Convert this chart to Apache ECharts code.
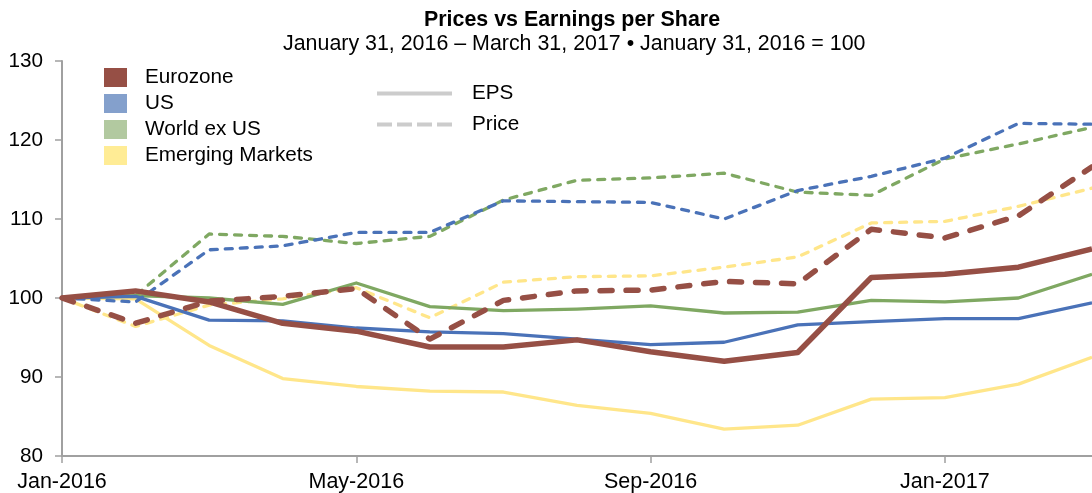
<!DOCTYPE html>
<html>
<head>
<meta charset="utf-8">
<script src="https://cdn.jsdelivr.net/npm/echarts@6/dist/echarts.min.js"></script>
<style>
html,body{margin:0;padding:0;background:#fff;}
#chart{width:1092px;height:493px;}
</style>
</head>
<body>
<div id="chart"></div>
<script>
var months = ['Jan-2016','Feb-2016','Mar-2016','Apr-2016','May-2016','Jun-2016','Jul-2016','Aug-2016','Sep-2016','Oct-2016','Nov-2016','Dec-2016','Jan-2017','Feb-2017','Mar-2017'];
var yTicks = [80, 90, 100, 110, 120, 130];

var eurozoneEPS   = [100, 100.9, 99.5, 96.8, 95.8, 93.8, 93.8, 94.7, 93.2, 92.0, 93.1, 102.6, 103.0, 103.9, 106.2];
var eurozonePrice = [100, 96.8, 99.6, 100.2, 101.2, 94.8, 99.7, 100.9, 101.0, 102.1, 101.8, 108.7, 107.6, 110.4, 116.6];
var usEPS         = [100, 100.2, 97.2, 97.1, 96.2, 95.7, 95.5, 94.8, 94.1, 94.4, 96.6, 97.0, 97.4, 97.4, 99.4];
var usPrice       = [100, 99.5, 106.1, 106.6, 108.3, 108.3, 112.3, 112.2, 112.1, 110.0, 113.6, 115.4, 117.7, 122.1, 122.0];
var worldEPS      = [100, 100.3, 100.0, 99.2, 101.9, 98.9, 98.4, 98.6, 99.0, 98.1, 98.2, 99.7, 99.5, 100.0, 103.0];
var worldPrice    = [100, 100.3, 108.1, 107.8, 106.9, 107.8, 112.4, 114.9, 115.2, 115.8, 113.4, 113.0, 117.6, 119.5, 121.6];
var emEPS         = [100, 99.9, 94.0, 89.8, 88.8, 88.2, 88.1, 86.4, 85.4, 83.4, 83.9, 87.2, 87.4, 89.1, 92.5];
var emPrice       = [100, 96.4, 99.1, 99.9, 101.3, 97.5, 102.0, 102.7, 102.8, 103.9, 105.2, 109.5, 109.7, 111.6, 113.9];

var regions = ['Eurozone', 'US', 'World ex US', 'Emerging Markets'];
var lineColors = {'Eurozone':'#964F45','US':'#4A72B8','World ex US':'#7FA862','Emerging Markets':'#FFE68A'};
var swatchColors = {'Eurozone':'#964F45','US':'#84A0CC','World ex US':'#B2C9A0','Emerging Markets':'#FFEC95'};

var FONT = '"Liberation Sans", Arial, sans-serif';

function lineSeries(name, data, width, dashed, dash) {
  return {
    name: name, type: 'line', data: data, symbol: 'none', animation: false,
    itemStyle: {color: lineColors[name]},
    lineStyle: {color: lineColors[name], width: width, type: dashed ? dash : 'solid', cap: dashed ? 'round' : 'butt', join: 'round'},
    z: 2
  };
}

var series = [
  lineSeries('Emerging Markets', emEPS, 3.3, false),
  lineSeries('Emerging Markets', emPrice, 3.3, true, [7, 8]),
  lineSeries('World ex US', worldEPS, 3.3, false),
  lineSeries('World ex US', worldPrice, 3.3, true, [7, 8]),
  lineSeries('US', usEPS, 3.3, false),
  lineSeries('US', usPrice, 3.3, true, [7, 8]),
  lineSeries('Eurozone', eurozoneEPS, 5.5, false),
  lineSeries('Eurozone', eurozonePrice, 5.5, true, [12, 14]),
  {name: 'EPS', type: 'line', data: [], symbol: 'none', itemStyle: {color: '#CCCCCC'}, lineStyle: {color: '#CCCCCC', width: 4}},
  {name: 'Price', type: 'line', data: [], symbol: 'none', itemStyle: {color: '#CCCCCC'}, lineStyle: {color: '#CCCCCC', width: 4, type: 'dashed'}}
];

var chart = echarts.init(document.getElementById('chart'), null, {renderer: 'canvas'});
chart.setOption({
  animation: false,
  backgroundColor: '#ffffff',
  title: [
    {text: 'Prices vs Earnings per Share', left: 419, top: 5,
     textStyle: {fontFamily: FONT, fontSize: 21.4, fontWeight: 'bold', color: '#000'}},
    {text: 'January 31, 2016 \u2013 March 31, 2017 \u2022 January 31, 2016 = 100', left: 278, top: 29,
     textStyle: {fontFamily: FONT, fontSize: 21.4, fontWeight: 'normal', color: '#000'}}
  ],
  legend: [
    {
      orient: 'vertical', left: 104, top: 67, padding: 0,
      itemWidth: 23, itemHeight: 19, itemGap: 5, icon: 'rect',
      selectedMode: false,
      textStyle: {fontFamily: FONT, fontSize: 20.7, color: '#000', padding: [0, 0, 0, 13], lineHeight: 19},
      data: regions.map(function (r) { return {name: r, itemStyle: {color: swatchColors[r]}}; })
    },
    {
      orient: 'vertical', left: 377, top: 83, padding: 0,
      itemWidth: 75, itemHeight: 4, itemGap: 10,
      selectedMode: false,
      textStyle: {fontFamily: FONT, fontSize: 20.7, color: '#000', padding: [0, 0, 0, 15], lineHeight: 20},
      data: [
        {name: 'EPS', icon: 'path://M0,0h75v4h-75z', itemStyle: {color: '#CCCCCC'}},
        {name: 'Price', icon: 'path://M0,0h15v4h-15z M20,0h15v4h-15z M40,0h15v4h-15z M60,0h15v4h-15z', itemStyle: {color: '#CCCCCC'}}
      ]
    }
  ],
  grid: {left: 62, top: 61, width: 1038, height: 395, containLabel: false},
  xAxis: {
    type: 'category', data: months, boundaryGap: false,
    axisLine: {lineStyle: {color: '#A0A0A0', width: 2}},
    axisTick: {show: true, interval: 3, length: 7, lineStyle: {color: '#A0A0A0', width: 1.5}},
    axisLabel: {interval: 3, margin: 15, fontFamily: FONT, fontSize: 21.5, color: '#000'},
    splitLine: {show: false}
  },
  yAxis: {
    type: 'value', min: yTicks[0], max: yTicks[yTicks.length - 1], interval: 10,
    axisLine: {show: true, lineStyle: {color: '#A0A0A0', width: 2}},
    axisTick: {show: true, length: 7, lineStyle: {color: '#A0A0A0', width: 1.5}},
    axisLabel: {margin: 19, fontFamily: FONT, fontSize: 20.7, color: '#000'},
    splitLine: {show: false}
  },
  series: series
});
</script>
</body>
</html>
